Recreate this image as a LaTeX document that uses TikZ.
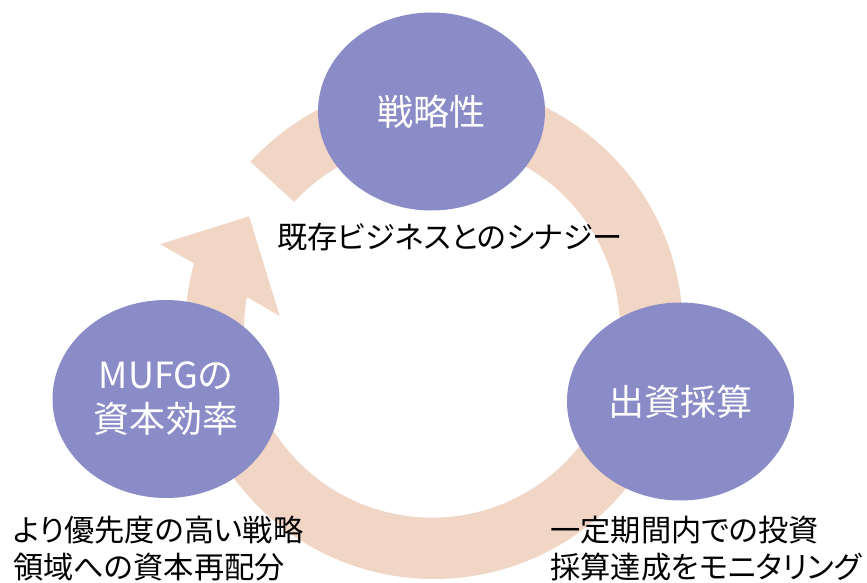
\documentclass[tikz,border=0pt]{standalone}
\usepackage{fontspec}
\setmainfont{Noto Sans CJK JP}[RawFeature=+palt]
\usetikzlibrary{shapes.geometric}
\definecolor{bubbleC}{RGB}{138,140,199}
\definecolor{ringC}{RGB}{241,214,197}

\begin{document}
\begin{tikzpicture}[x=0.2mm,y=0.2mm,
    bubble/.style={ellipse,fill=bubbleC,text=white,inner sep=0pt,
      minimum width=45.4mm,minimum height=39.6mm,align=center,
      font=\fontsize{20.5}{25}\selectfont},
    note/.style={inner sep=0pt,align=left,font=\fontsize{17.2}{21}\selectfont}]
  \useasboundingbox (0,0) rectangle (867,582);

  % Cycle arrow: ring with its head at the upper left
  \begin{scope}[shift={(434,252)}]
    \fill[ringC] (137.5:249) arc[start angle=137.5,end angle=-195.5,radius=249]
      -- (162.6:287) -- (148.4:217) -- (174.8:155) -- (170:190)
      arc[start angle=-190,end angle=137.2,radius=188] -- cycle;
  \end{scope}

  % Bubbles
  \node[bubble] (strategy) at (431.5,470.5) {戦略性};
  \node[bubble] (capital) at (166,183) {MUFGの\\資本効率};
  \node[bubble] (budget) at (680.5,180.5) {出資採算};

  % Notes
  \node[note] (synergy) at (450,345) {既存ビジネスとのシナジー};
  \node[note,anchor=west] (realloc) at (13,33.5)
    {より優先度の高い戦略\\領域への資本再配分};
  \node[note,anchor=west] (monitor) at (550,33)
    {一定期間内での投資\\採算達成をモニタリング};
\end{tikzpicture}
\end{document}
